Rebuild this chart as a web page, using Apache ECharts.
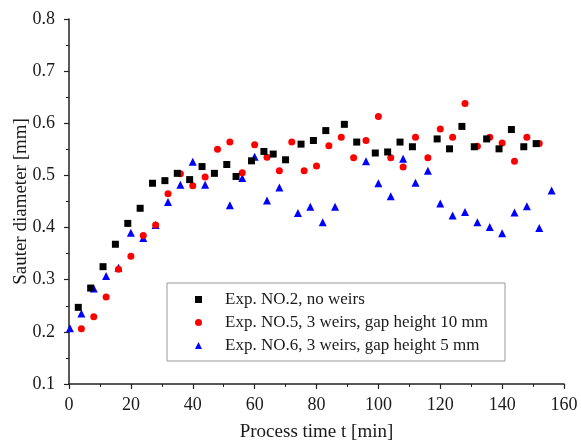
<!DOCTYPE html>
<html>
<head>
<meta charset="utf-8">
<script src="https://cdn.jsdelivr.net/npm/echarts@6/dist/echarts.min.js"></script>
<style>
html,body{margin:0;padding:0;background:#fff;}
#chart{width:581px;height:442px;}
</style>
</head>
<body>
<div id="chart"></div>
<script>
// Data
const seriesNames = [
  'Exp. NO.2, no weirs',
  'Exp. NO.5, 3 weirs, gap height 10 mm',
  'Exp. NO.6, 3 weirs, gap height 5 mm'
];
const timeNo2 = [3, 7, 11, 15, 19, 23, 27, 31, 35, 39, 43, 47, 51, 54, 59, 63, 66, 70, 75, 79, 83, 89, 93, 99, 103, 107, 111, 119, 123, 127, 131, 135, 139, 143, 147, 151];
const diamNo2 = [0.247, 0.284, 0.325, 0.368, 0.408, 0.437, 0.485, 0.490, 0.504, 0.492, 0.517, 0.504, 0.521, 0.498, 0.528, 0.546, 0.541, 0.530, 0.560, 0.567, 0.586, 0.598, 0.564, 0.543, 0.545, 0.564, 0.555, 0.570, 0.551, 0.594, 0.555, 0.570, 0.551, 0.588, 0.555, 0.561];
const timeNo5 = [4, 8, 12, 16, 20, 24, 28, 32, 36, 40, 44, 48, 52, 56, 60, 64, 68, 72, 76, 80, 84, 88, 92, 96, 100, 104, 108, 112, 116, 120, 124, 128, 132, 136, 140, 144, 148, 152];
const diamNo5 = [0.206, 0.229, 0.267, 0.320, 0.345, 0.385, 0.405, 0.465, 0.503, 0.480, 0.497, 0.550, 0.564, 0.505, 0.559, 0.535, 0.509, 0.564, 0.509, 0.518, 0.557, 0.573, 0.534, 0.567, 0.613, 0.534, 0.516, 0.573, 0.534, 0.589, 0.573, 0.638, 0.556, 0.573, 0.562, 0.527, 0.573, 0.561];
const timeNo6 = [0.3, 4, 8, 12, 16, 20, 24, 28, 32, 36, 40, 44, 52, 56, 60, 64, 68, 74, 78, 82, 86, 96, 100, 104, 108, 112, 116, 120, 124, 128, 132, 136, 140, 144, 148, 152, 156];
const diamNo6 = [0.207, 0.235, 0.283, 0.307, 0.323, 0.390, 0.380, 0.405, 0.449, 0.482, 0.526, 0.482, 0.443, 0.495, 0.536, 0.452, 0.477, 0.428, 0.440, 0.410, 0.440, 0.527, 0.485, 0.460, 0.532, 0.486, 0.509, 0.446, 0.423, 0.430, 0.410, 0.401, 0.389, 0.429, 0.441, 0.399, 0.471];
const xTicks = [0, 20, 40, 60, 80, 100, 120, 140, 160];
const yTicks = [0.1, 0.2, 0.3, 0.4, 0.5, 0.6, 0.7, 0.8];

function pairs(xs, ys) { return xs.map((x, i) => [x, ys[i]]); }

const serif = '"Liberation Serif", "DejaVu Serif", serif';
const axisColor = '#222';
const textColor = '#1a1a1a';

const chart = echarts.init(document.getElementById('chart'), null, {renderer: 'canvas'});
chart.setOption({
  animation: false,
  backgroundColor: '#fff',
  grid: {left: 69, right: 17, top: 19, bottom: 58, containLabel: false, outerBoundsMode: 'none'},
  legend: {
    orient: 'vertical',
    left: 167,
    top: 283,
    padding: [8, 17, 7, 28],
    itemGap: 6,
    itemWidth: 7,
    itemHeight: 7,
    borderColor: '#999',
    borderWidth: 1,
    textStyle: {fontFamily: serif, fontSize: 17, color: textColor, padding: [0, 0, 0, 18]},
    data: [
      {name: seriesNames[0], icon: 'rect'},
      {name: seriesNames[1], icon: 'circle'},
      {name: seriesNames[2], icon: 'triangle'}
    ]
  },
  xAxis: {
    type: 'value',
    min: xTicks[0],
    max: xTicks[xTicks.length - 1],
    interval: 20,
    name: 'Process time t [min]',
    nameLocation: 'middle',
    nameGap: 39,
    nameMoveOverlap: false,
    nameTextStyle: {fontFamily: serif, fontSize: 19, color: textColor},
    axisLine: {show: true, onZero: false, lineStyle: {color: axisColor, width: 1.5}},
    axisTick: {show: true, inside: false, length: 5, lineStyle: {color: axisColor, width: 1.2}},
    minorTick: {show: true, splitNumber: 2, length: 3, lineStyle: {color: axisColor, width: 1}},
    axisLabel: {fontFamily: serif, fontSize: 18, color: textColor, margin: 12},
    splitLine: {show: false}
  },
  yAxis: {
    type: 'value',
    min: yTicks[0],
    max: yTicks[yTicks.length - 1],
    interval: 0.1,
    name: 'Sauter diameter [mm]',
    nameLocation: 'middle',
    nameGap: 38,
    nameMoveOverlap: false,
    nameTextStyle: {fontFamily: serif, fontSize: 19, color: textColor},
    axisLine: {show: true, onZero: false, lineStyle: {color: axisColor, width: 1.5}},
    axisTick: {show: true, inside: false, length: 5, lineStyle: {color: axisColor, width: 1.2}},
    minorTick: {show: true, splitNumber: 2, length: 3, lineStyle: {color: axisColor, width: 1}},
    axisLabel: {fontFamily: serif, fontSize: 18, color: textColor, margin: 14,
      formatter: v => v.toFixed(1)},
    splitLine: {show: false}
  },
  series: [
    {
      name: seriesNames[0], type: 'scatter', symbol: 'rect', symbolSize: 7,
      itemStyle: {color: '#000', opacity: 1},
      data: pairs(timeNo2, diamNo2), z: 3
    },
    {
      name: seriesNames[1], type: 'scatter', symbol: 'circle', symbolSize: 7,
      itemStyle: {color: '#ff0000', opacity: 1},
      data: pairs(timeNo5, diamNo5), z: 2
    },
    {
      name: seriesNames[2], type: 'scatter', symbol: 'triangle', symbolSize: 8,
      itemStyle: {color: '#0000ff', opacity: 1},
      data: pairs(timeNo6, diamNo6), z: 1
    }
  ]
});
</script>
</body>
</html>
